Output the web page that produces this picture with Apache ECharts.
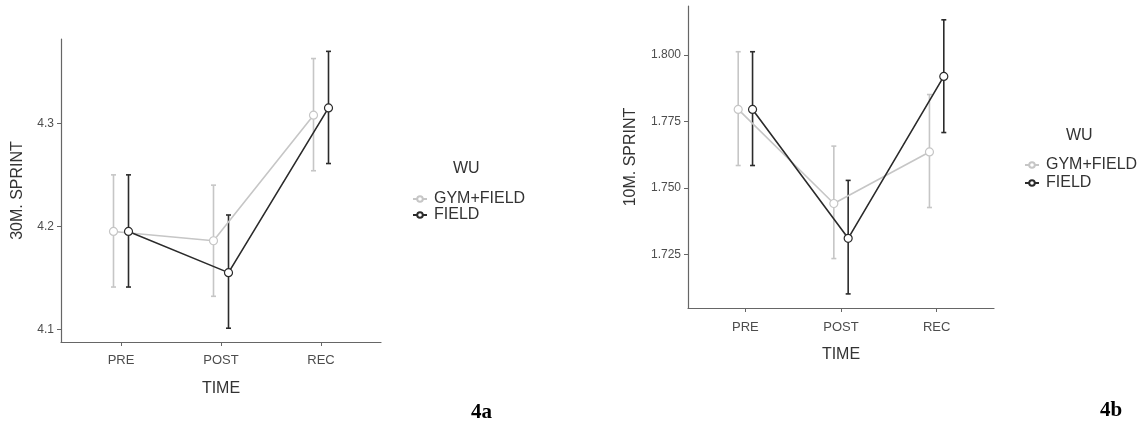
<!DOCTYPE html>
<html>
<head>
<meta charset="utf-8">
<script src="https://cdn.jsdelivr.net/npm/echarts@6/dist/echarts.min.js"></script>
<style>
html,body{margin:0;padding:0;background:#fff;}
#chart{width:1143px;height:427px;}
</style>
</head>
<body>
<div id="chart"></div>
<script>
// ---- data ----
const categories = ['PRE', 'POST', 'REC'];
const groupNames = ['GYM+FIELD', 'FIELD'];

// 30 m sprint (panel 4a)
const sprint30Gym = [4.195, 4.186, 4.308];
const sprint30GymLow = [4.141, 4.132, 4.254];
const sprint30GymHigh = [4.250, 4.240, 4.363];
const sprint30Field = [4.195, 4.155, 4.315];
const sprint30FieldLow = [4.141, 4.101, 4.261];
const sprint30FieldHigh = [4.250, 4.211, 4.370];
const sprint30Ticks = [4.1, 4.2, 4.3];

// 10 m sprint (panel 4b)
const sprint10Gym = [1.7796, 1.7442, 1.7636];
const sprint10GymLow = [1.7585, 1.7235, 1.7427];
const sprint10GymHigh = [1.8013, 1.7658, 1.7852];
const sprint10Field = [1.7796, 1.7311, 1.7920];
const sprint10FieldLow = [1.7585, 1.7102, 1.7709];
const sprint10FieldHigh = [1.8013, 1.7529, 1.8133];
const sprint10Ticks = [1.725, 1.750, 1.775, 1.800];

// ---- styling ----
const GRAY = '#c6c6c6';
const DARK = '#2b2b2b';
const AXIS = '#666666';
const DODGE = 0.075;
const FONT = 'Liberation Sans, Arial, sans-serif';
const catPos = categories.map((c, i) => i + 1);

function pts(vals, off) { return vals.map((v, i) => [catPos[i] + off, v]); }
function bars(lo, hi, off) { return lo.map((v, i) => [catPos[i] + off, v, hi[i]]); }

function errSeries(idx, lo, hi, off, color) {
  return {
    type: 'custom', xAxisIndex: idx, yAxisIndex: idx, silent: true, z: 2,
    encode: { x: 0, y: [1, 2] },
    data: bars(lo, hi, off),
    renderItem: function (params, api) {
      const x = api.value(0);
      const a = api.coord([x, api.value(1)]);
      const b = api.coord([x, api.value(2)]);
      const w = 2.5;
      const st = { stroke: color, lineWidth: 1.6 };
      return { type: 'group', children: [
        { type: 'line', shape: { x1: a[0], y1: a[1], x2: b[0], y2: b[1] }, style: st },
        { type: 'line', shape: { x1: a[0] - w, y1: a[1], x2: a[0] + w, y2: a[1] }, style: st },
        { type: 'line', shape: { x1: b[0] - w, y1: b[1], x2: b[0] + w, y2: b[1] }, style: st }
      ]};
    }
  };
}
function lineSeries(idx, name, vals, off, color, lw) {
  return {
    type: 'line', name: name, xAxisIndex: idx, yAxisIndex: idx, z: 3,
    data: pts(vals, off),
    symbol: 'circle', symbolSize: 8,
    lineStyle: { color: color, width: lw },
    itemStyle: { color: '#ffffff', borderColor: color, borderWidth: 1.2 },
    emphasis: { disabled: true },
    animation: false
  };
}

function xAxis(idx, labelMargin, nameGap) {
  return {
    type: 'value', gridIndex: idx, min: 0.4, max: 3.6,
    axisLine: { show: true, lineStyle: { color: AXIS, width: 1.2 } },
    axisTick: { show: true, length: 4, customValues: catPos, lineStyle: { color: AXIS } },
    axisLabel: { customValues: catPos, formatter: v => categories[Math.round(v) - 1] || '',
      color: '#4d4d4d', fontSize: 13, margin: labelMargin, fontFamily: FONT },
    splitLine: { show: false },
    name: 'TIME', nameLocation: 'middle', nameGap: nameGap,
    nameTextStyle: { color: '#333333', fontSize: 16, fontFamily: FONT }
  };
}
function yAxis(idx, min, max, ticks, dec, name, gap) {
  return {
    type: 'value', gridIndex: idx, min: min, max: max,
    axisLine: { show: true, lineStyle: { color: AXIS, width: 1.2 } },
    axisTick: { show: true, length: 4, customValues: ticks, lineStyle: { color: AXIS } },
    axisLabel: { customValues: ticks, formatter: v => v.toFixed(dec),
      color: '#4d4d4d', fontSize: 12, margin: 7, fontFamily: FONT },
    splitLine: { show: false },
    name: name, nameLocation: 'middle', nameGap: gap, nameRotate: 90,
    nameTextStyle: { color: '#333333', fontSize: 16, fontFamily: FONT }
  };
}
function legend(left, top, gap) {
  return {
    data: groupNames, orient: 'vertical', left: left, top: top,
    itemWidth: 14, itemHeight: 7, itemGap: gap, selectedMode: false,
    textStyle: { color: '#333333', fontSize: 16, fontFamily: FONT, padding: [0, 0, 0, 2] }
  };
}

const chart = echarts.init(document.getElementById('chart'), null, { renderer: 'canvas' });
chart.setOption({
  backgroundColor: '#ffffff',
  animation: false,
  grid: [
    { left: 61, top: 39, width: 320, height: 303 },
    { left: 688, top: 6, width: 306, height: 302 }
  ],
  xAxis: [xAxis(0, 12, 39), xAxis(1, 13, 39)],
  yAxis: [
    yAxis(0, 4.0876, 4.382, sprint30Ticks, 1, '30M. SPRINT', 35),
    yAxis(1, 1.7049, 1.8185, sprint10Ticks, 3, '10M. SPRINT', 49)
  ],
  legend: [legend(407, 186, 0), legend(1019, 152, 2)],
  graphic: [
    { type: 'text', left: 453, top: 161, style: { text: 'WU', fontSize: 16, fill: '#333333', fontFamily: FONT } },
    { type: 'text', left: 1066, top: 128, style: { text: 'WU', fontSize: 16, fill: '#333333', fontFamily: FONT } },
    { type: 'text', left: 471, top: 402, style: { text: '4a', fontSize: 21, fontWeight: 'bold', fill: '#000000', fontFamily: 'Liberation Serif, Times New Roman, serif' } },
    { type: 'text', left: 1100, top: 400, style: { text: '4b', fontSize: 21, fontWeight: 'bold', fill: '#000000', fontFamily: 'Liberation Serif, Times New Roman, serif' } }
  ],
  series: [
    errSeries(0, sprint30GymLow, sprint30GymHigh, -DODGE, GRAY),
    errSeries(0, sprint30FieldLow, sprint30FieldHigh, DODGE, DARK),
    lineSeries(0, groupNames[0], sprint30Gym, -DODGE, GRAY, 1.6),
    lineSeries(0, groupNames[1], sprint30Field, DODGE, DARK, 1.6),
    errSeries(1, sprint10GymLow, sprint10GymHigh, -DODGE, GRAY),
    errSeries(1, sprint10FieldLow, sprint10FieldHigh, DODGE, DARK),
    lineSeries(1, groupNames[0], sprint10Gym, -DODGE, GRAY, 1.6),
    lineSeries(1, groupNames[1], sprint10Field, DODGE, DARK, 1.6)
  ]
});
</script>
</body>
</html>
